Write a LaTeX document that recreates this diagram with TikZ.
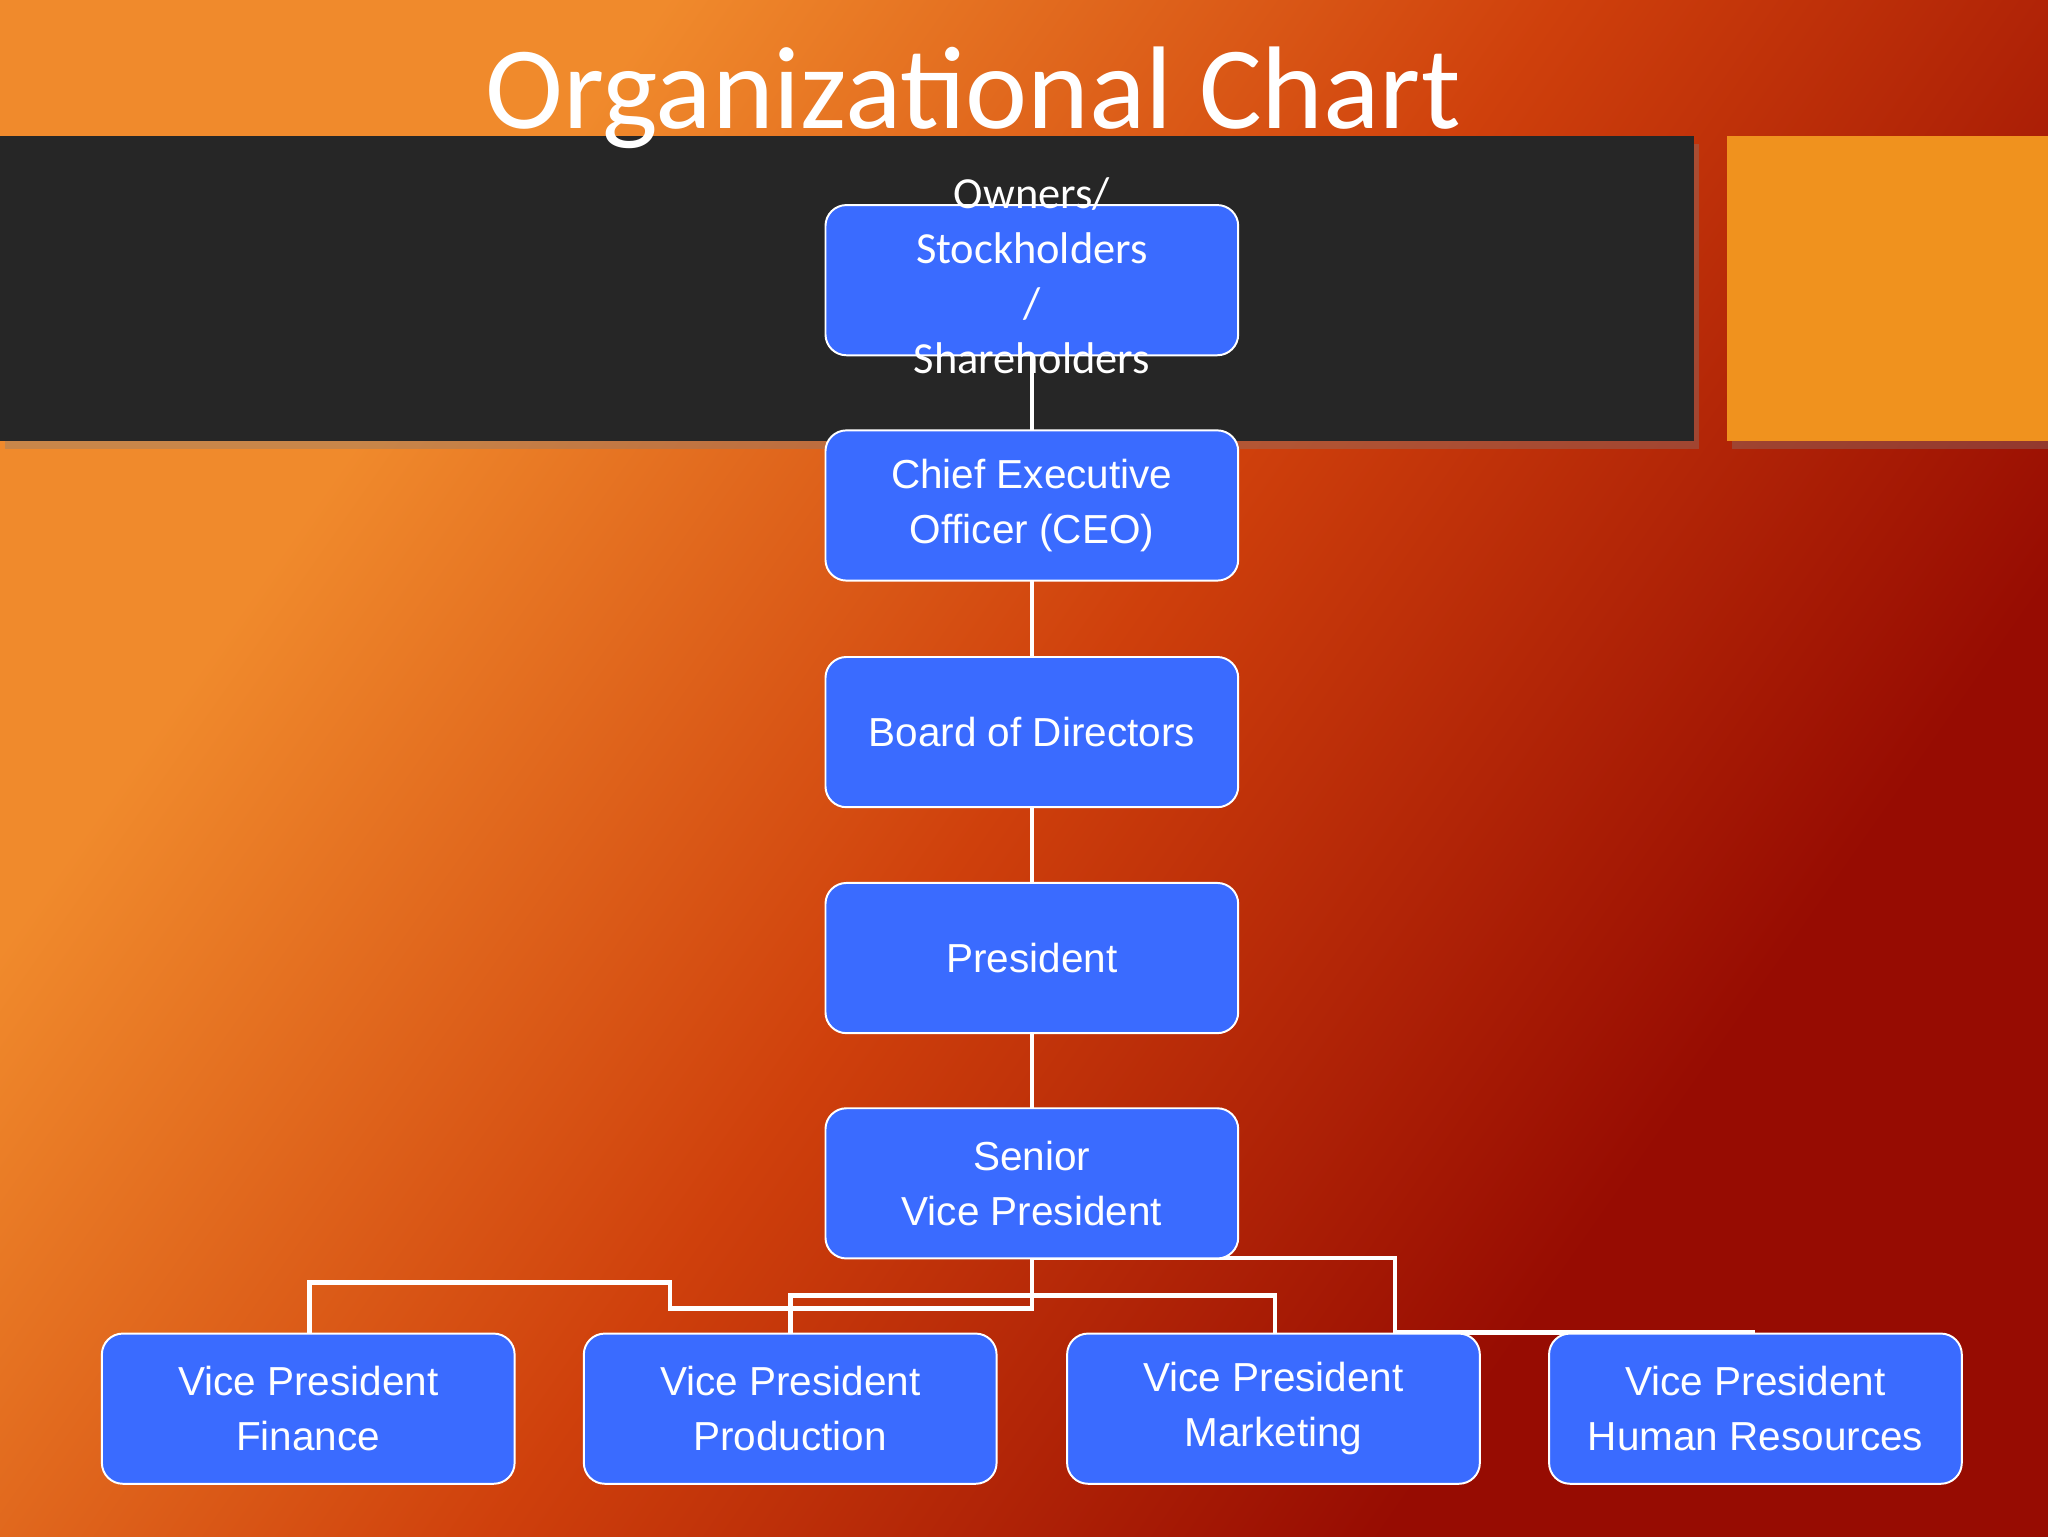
\documentclass[tikz,border=0pt]{standalone}
\usepackage{fontspec}
\setmainfont{Liberation Sans}
\newfontfamily\carl{Carlito}
\usetikzlibrary{shadows}
\definecolor{bgA}{HTML}{F08A2C}
\definecolor{bgM}{HTML}{CF400C}
\definecolor{bgD}{HTML}{970C02}
\definecolor{band}{HTML}{262626}
\definecolor{orng}{HTML}{F0921E}
\definecolor{boxb}{HTML}{3A6BFF}
\pgfdeclarehorizontalshading{bgshade}{100bp}{color(0bp)=(bgA); color(30bp)=(bgA); color(50bp)=(bgM); color(70bp)=(bgD); color(100bp)=(bgD)}
\tikzset{
  ob/.style={draw=white, line width=1.5pt, fill=boxb, rounded corners=16pt, minimum width=316pt, minimum height=115pt, inner sep=0pt, text=white, font=\fontsize{31}{42}\selectfont, align=center},
  conn/.style={draw=white, line width=3.5pt}
}
\begin{document}
\begin{tikzpicture}[x=1pt,y=-1pt]
\useasboundingbox (0,0) rectangle (1568,1176);
\shade[shading=bgshade, shading angle=-35] (0,0) rectangle (1568,1176);
\fill[band, drop shadow={shadow xshift=4pt,shadow yshift=-6pt,opacity=0.35}] (0,104) rectangle (1297,338);
\fill[orng, drop shadow={shadow xshift=4pt,shadow yshift=-6pt,opacity=0.35}] (1322,104) rectangle (1568,338);
\node[text=white, font=\carl\fontsize{90}{100}\selectfont, anchor=base] (title) at (745,98) {Organizational Chart};
% connectors
\coordinate (j1) at (790,1002);
\coordinate (j2) at (513,1002);
\coordinate (j3) at (513,982);
\coordinate (j4) at (237,982);
\coordinate (k1) at (605,992);
\coordinate (k2) at (976,992);
\coordinate (m1) at (1068,963);
\coordinate (m2) at (1068,1020);
\coordinate (m3) at (1344,1020);
\draw[conn] (790,214) -- (790,906);
\draw[conn] (790,906) -- (j1) -- (j2) -- (j3) -- (j4) -- (237,1078);
\draw[conn] (605,1078) -- (k1) -- (k2) -- (976,1078);
\draw[conn] (790,963) -- (m1) -- (m2) -- (m3);
% nodes
\node[ob] (own) at (790,214.5) {};
\node[text=white, font=\carl\fontsize{34}{42}\selectfont, align=center] (owntxt) at (790,211) {Owners/\\Stockholders\\/\\Shareholders};
\node[ob] (ceo) at (790,387) {Chief Executive\\Officer (CEO)};
\node[ob] (bod) at (790,560.5) {Board of Directors};
\node[ob] (pres) at (790,733.5) {President};
\node[ob] (svp) at (790,906) {Senior\\Vice President};
\node[ob] (vpf) at (236,1078.5) {Vice President\\Finance};
\node[ob] (vpp) at (605,1078.5) {Vice President\\Production};
\node[ob] (vpm) at (975,1078.5) {Vice President\\Marketing};
\node[ob] (vph) at (1344,1078.5) {Vice President\\Human Resources};
\end{tikzpicture}
\end{document}
